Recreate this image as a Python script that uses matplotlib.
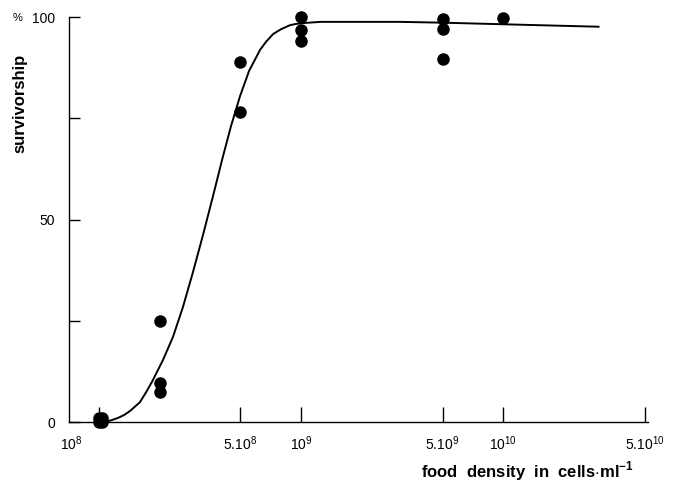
import matplotlib
matplotlib.use("Agg")
import matplotlib.pyplot as plt
import matplotlib.transforms as mtransforms

plt.rcParams['font.family'] = ['Liberation Sans', 'DejaVu Sans']
plt.rcParams['mathtext.fontset'] = 'custom'
plt.rcParams['mathtext.rm'] = 'Liberation Sans'
plt.rcParams['mathtext.bf'] = 'Liberation Sans:bold'

# Observed survivorship (%) at each food density (cells/ml)
density = [1.0e8, 1.04e8, 1.0e8, 1.04e8,
           2e8, 2e8, 2e8,
           5e8, 5e8,
           1e9, 1e9, 1e9,
           5e9, 5e9, 5e9,
           1e10]
survival = [1, 1, 0, 0,
            25, 9.6, 7.4,
            89, 76.5,
            100, 96.8, 94.1,
            99.5, 97, 89.6,
            99.8]

# Fitted response curve
fit_density = [1.059e8, 1.147e8, 1.242e8, 1.33e8, 1.424e8, 1.596e8, 1.709e8,
               1.83e8, 2.074e8, 2.324e8, 2.604e8, 2.918e8, 3.272e8, 3.667e8,
               4.063e8, 4.502e8, 4.989e8, 5.529e8, 6.266e8, 6.71e8, 7.268e8,
               7.96e8, 8.82e8, 9.45e8, 1.023e9, 1.242e9, 3.09e9, 5e9,
               1.01e10, 2.95e10]
fit_survival = [0, 0.4, 1.0, 1.7, 2.7, 4.9, 7.3,
                9.9, 15.3, 21.0, 28.4, 37.0, 46.2, 55.8,
                64.7, 73.1, 80.5, 86.7, 91.9, 93.9, 95.8,
                97.0, 98.0, 98.3, 98.5, 98.8, 98.8, 98.6,
                98.2, 97.6]

xticks = [1e8, 5e8, 1e9, 5e9, 1e10, 5e10]
xticklabels = [r'$10^{8}$', r'$5.10^{8}$', r'$10^{9}$',
               r'$5.10^{9}$', r'$10^{10}$', r'$5.10^{10}$']
yticks = [0, 25, 50, 75, 100]
yticklabels = ['0', '', '50', '', '100']

fig = plt.figure(figsize=(6.81, 4.93), dpi=100)
ax = fig.add_axes([0.101, 0.144, 0.851, 0.8215])

ax.plot(fit_density, fit_survival, color='black', lw=1.4,
        solid_joinstyle='round', zorder=2)
ax.plot(density, survival, 'o', color='black', ms=8, zorder=3, clip_on=False)

ax.set_xscale('log')
ax.set_xlim(7.1e7, 5.2e10)
ax.set_ylim(0, 100)

ax.set_xticks(xticks)
ax.set_xticklabels(xticklabels)
ax.minorticks_off()
ax.set_yticks(yticks)
ax.set_yticklabels(yticklabels)

ax.tick_params(axis='x', direction='in', length=11, width=1, pad=9,
               labelsize=10, colors='black')
ax.tick_params(axis='y', direction='in', length=8, width=1, pad=10,
               labelsize=10)

# the 10^8 label sits at the start of the axis
off = mtransforms.ScaledTranslation(-0.28, 0, fig.dpi_scale_trans)
lab = ax.get_xticklabels()[0]
lab.set_transform(lab.get_transform() + off)

for side in ['top', 'right']:
    ax.spines[side].set_visible(False)
for side in ['left', 'bottom']:
    ax.spines[side].set_linewidth(1)

fig.text(0.03, 0.79, 'survivorship', rotation=90, ha='center', va='center',
         fontsize=12, fontweight='bold')
fig.text(0.026, 0.963, '%', ha='center', va='center', fontsize=8)
fig.text(0.93, 0.032, r'food  density  in  cells$\cdot$ml$^{\mathbf{-1}}$',
         ha='right', va='baseline', fontsize=12, fontweight='bold')

fig.savefig('out.png', dpi=100)
